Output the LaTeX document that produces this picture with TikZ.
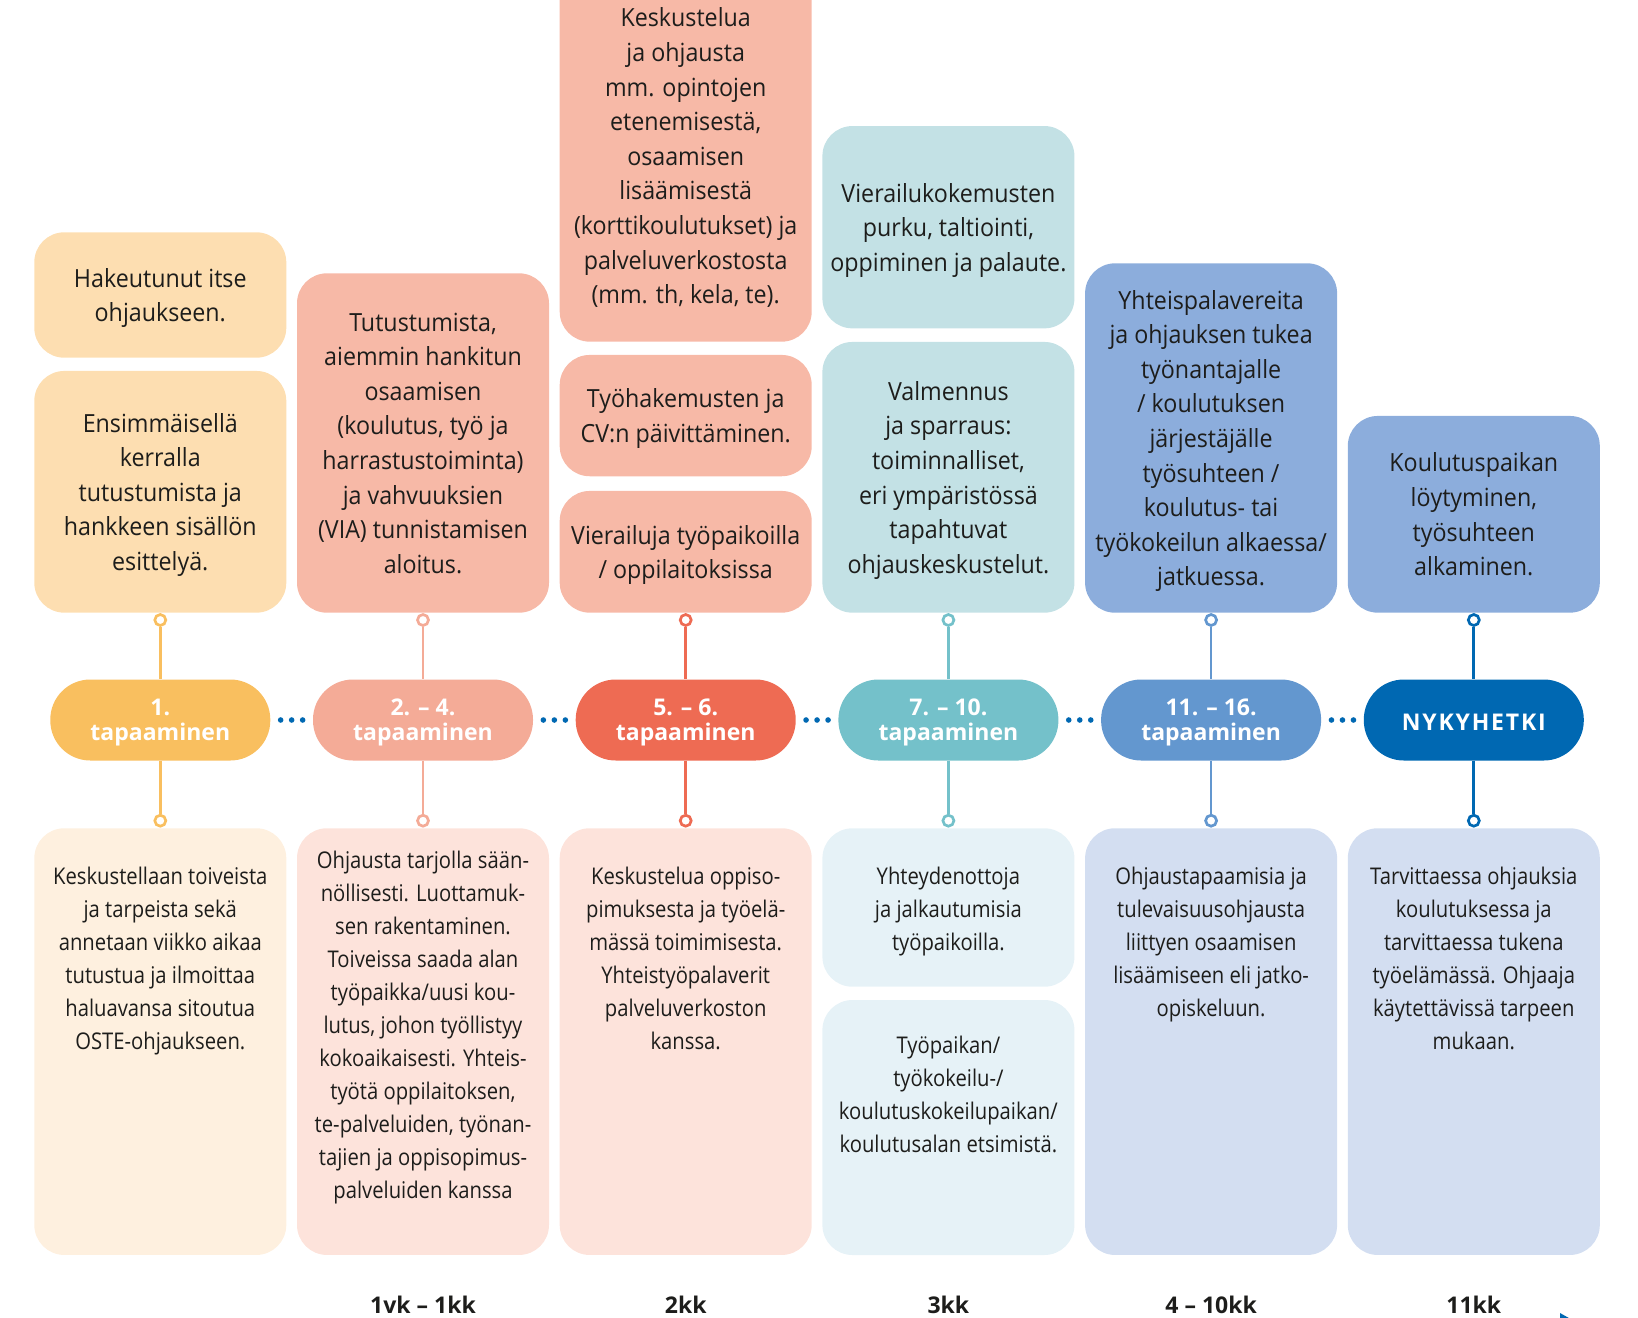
\documentclass[tikz,border=0pt]{standalone}
\usepackage{fontspec}
\setmainfont{Open Sans}
\newfontfamily\upperfont{Open Sans}[FakeStretch=0.93]
\newfontfamily\lowerfont{Open Sans}[FakeStretch=0.88]
\usetikzlibrary{positioning,calc}

\definecolor{ink}{HTML}{1D1D1B}
\definecolor{peachtop}{HTML}{FDDEB1}
\definecolor{peachlow}{HTML}{FEF0DF}
\definecolor{salmontop}{HTML}{F7B9A7}
\definecolor{salmonlow}{HTML}{FDE3DB}
\definecolor{tealtop}{HTML}{C3E1E5}
\definecolor{teallow}{HTML}{E6F2F7}
\definecolor{bluetop}{HTML}{8CADDC}
\definecolor{bluelow}{HTML}{D3DEF1}
\definecolor{pillA}{HTML}{F9BF5F}
\definecolor{pillB}{HTML}{F4AB97}
\definecolor{pillC}{HTML}{EE6B53}
\definecolor{pillD}{HTML}{74C1CA}
\definecolor{pillE}{HTML}{6397CF}
\definecolor{pillF}{HTML}{0068B2}

\tikzstyle{upper}=[rectangle,rounded corners=30pt,minimum width=252pt,inner sep=0pt,
  text=ink,align=center,font=\upperfont\fontsize{25}{34.6}\selectfont,text depth=0pt]
\tikzstyle{lower}=[rectangle,rounded corners=30pt,minimum width=252pt,inner sep=0pt]
\tikzstyle{lowertext}=[inner sep=0pt,text=ink,align=center,
  font=\lowerfont\fontsize{23}{33}\selectfont]
\tikzstyle{meeting}=[rectangle,rounded corners=40pt,minimum width=220pt,minimum height=81pt,
  inner sep=0pt,text=white,align=center,font=\bfseries\fontsize{23}{25}\selectfont,
  text depth=0pt,execute at begin node={\rule{0pt}{20pt}}]
\tikzstyle{ring}=[circle,draw,fill=white,line width=2.7pt,minimum size=11pt,inner sep=0pt]
\tikzstyle{edge}=[draw,line width=2.7pt]
\tikzstyle{period}=[text=ink,font=\bfseries\fontsize{23}{25}\selectfont]

\begin{document}
\begin{tikzpicture}[x=1pt,y=-1pt]
  \useasboundingbox (0,0) rectangle (1638,1317);

  % what happens before each meeting
  \node[upper,fill=peachtop,minimum height=125.4pt] (a1) at (160.3,295) {Hakeutunut itse\\ohjaukseen.};
  \node[upper,fill=peachtop,minimum height=241.7pt] (a2) at (160.3,491.8) {Ensimmäisellä\\kerralla\\tutustumista ja\\hankkeen sisällön\\esittelyä.};
  \node[upper,fill=salmontop,minimum height=339.4pt] (a3) at (423,443) {Tutustumista,\\aiemmin hankitun\\osaamisen\\(koulutus, työ ja\\harrastustoiminta)\\ja vahvuuksien\\(VIA) tunnistamisen\\aloitus.};
  \node[upper,fill=salmontop,minimum height=371.7pt] (a4) at (685.7,155.8) {Keskustelua\\ja ohjausta\\mm. opintojen\\etenemisestä,\\osaamisen\\lisäämisestä\\(korttikoulutukset) ja\\palveluverkostosta\\(mm. th, kela, te).};
  \node[upper,fill=salmontop,minimum height=121.3pt] (a5) at (685.7,415.6) {Työhakemusten ja\\CV:n päivittäminen.};
  \node[upper,fill=salmontop,minimum height=121.7pt] (a6) at (685.7,551.8) {Vierailuja työpaikoilla\\/ oppilaitoksissa};
  \node[upper,fill=tealtop,minimum height=202.3pt] (a7) at (948.4,227.2) {Vierailukokemusten\\purku, taltiointi,\\oppiminen ja palaute.};
  \node[upper,fill=tealtop,minimum height=270.7pt] (a8) at (948.4,477.3) {Valmennus\\ja sparraus:\\toiminnalliset,\\eri ympäristössä\\tapahtuvat\\ohjauskeskustelut.};
  \node[upper,fill=bluetop,minimum height=349.4pt] (a9) at (1211.1,438) {Yhteispalavereita\\ja ohjauksen tukea\\työnantajalle\\/ koulutuksen\\järjestäjälle\\työsuhteen /\\koulutus- tai\\työkokeilun alkaessa/\\jatkuessa.};
  \node[upper,fill=bluetop,minimum height=196.7pt] (a10) at (1473.8,514.3) {Koulutuspaikan\\löytyminen,\\työsuhteen\\alkaminen.};

  % meetings on the time line
  \foreach \i/\x/\col/\txt in {1/160.3/pillA/{1.\\tapaaminen}, 2/423/pillB/{2. – 4.\\tapaaminen},
      3/685.7/pillC/{5. – 6.\\tapaaminen}, 4/948.4/pillD/{7. – 10.\\tapaaminen},
      5/1211.1/pillE/{11. – 16.\\tapaaminen}, 6/1473.8/pillF/{\addfontfeature{LetterSpace=8}NYKYHETKI}}
  {
    \node[meeting,fill=\col] (p\i) at (\x,720) {\txt};
    \node[ring,draw=\col] (up\i) at (\x,620) {};
    \node[ring,draw=\col] (dn\i) at (\x,820.7) {};
    \path[edge,draw=\col] (up\i) -- (p\i) (p\i) -- (dn\i);
  }

  \foreach \a/\b in {1/2,2/3,3/4,4/5,5/6}
    \foreach \d in {-11,0,11}
      \fill[pillF] ($(p\a.east)!.5!(p\b.west)$) ++(\d,0) circle (2.8pt);

  % what happens after
  \node[lower,fill=peachlow,minimum height=426.7pt] (b1) at (160.3,1041.6) {};
  \node[lowertext,below=39pt of b1.north] (b1t) {Keskustellaan toiveista\\ja tarpeista sekä\\annetaan viikko aikaa\\tutustua ja ilmoittaa\\haluavansa sitoutua\\OSTE-ohjaukseen.};
  \node[lower,fill=salmonlow,minimum height=426.7pt] (b2) at (423,1041.6) {};
  \node[lowertext,below=23pt of b2.north] (b2t) {Ohjausta tarjolla sään-\\nöllisesti. Luottamuk-\\sen rakentaminen.\\Toiveissa saada alan\\työpaikka/uusi kou-\\lutus, johon työllistyy\\kokoaikaisesti. Yhteis-\\työtä oppilaitoksen,\\te-palveluiden, työnan-\\tajien ja oppisopimus-\\palveluiden kanssa};
  \node[lower,fill=salmonlow,minimum height=426.7pt] (b3) at (685.7,1041.6) {};
  \node[lowertext,below=39pt of b3.north] (b3t) {Keskustelua oppiso-\\pimuksesta ja työelä-\\mässä toimimisesta.\\Yhteistyöpalaverit\\palveluverkoston\\kanssa.};
  \node[lower,fill=teallow,minimum height=158.4pt] (b4) at (948.4,907.5) {};
  \node[lowertext,below=39pt of b4.north] (b4t) {Yhteydenottoja\\ja jalkautumisia\\työpaikoilla.};
  \node[lower,fill=teallow,minimum height=255pt] (b5) at (948.4,1127.5) {};
  \node[lowertext,below=36pt of b5.north] (b5t) {Työpaikan/\\työkokeilu-/\\koulutuskokeilupaikan/\\koulutusalan etsimistä.};
  \node[lower,fill=bluelow,minimum height=426.7pt] (b6) at (1211.1,1041.6) {};
  \node[lowertext,below=39pt of b6.north] (b6t) {Ohjaustapaamisia ja\\tulevaisuusohjausta\\liittyen osaamisen\\lisäämiseen eli jatko-\\opiskeluun.};
  \node[lower,fill=bluelow,minimum height=426.7pt] (b7) at (1473.8,1041.6) {};
  \node[lowertext,below=39pt of b7.north] (b7t) {Tarvittaessa ohjauksia\\koulutuksessa ja\\tarvittaessa tukena\\työelämässä. Ohjaaja\\käytettävissä tarpeen\\mukaan.};

  % time
  \foreach \i/\x/\txt in {2/423/{1vk – 1kk}, 3/685.7/2kk, 4/948.4/3kk, 5/1211.1/{4 – 10kk}, 6/1473.8/11kk}
    \node[period] (t\i) at (\x,1305) {\txt};

  \fill[pillF] (1560,1313) -- (1576,1322) -- (1560,1331) -- cycle;
\end{tikzpicture}
\end{document}
